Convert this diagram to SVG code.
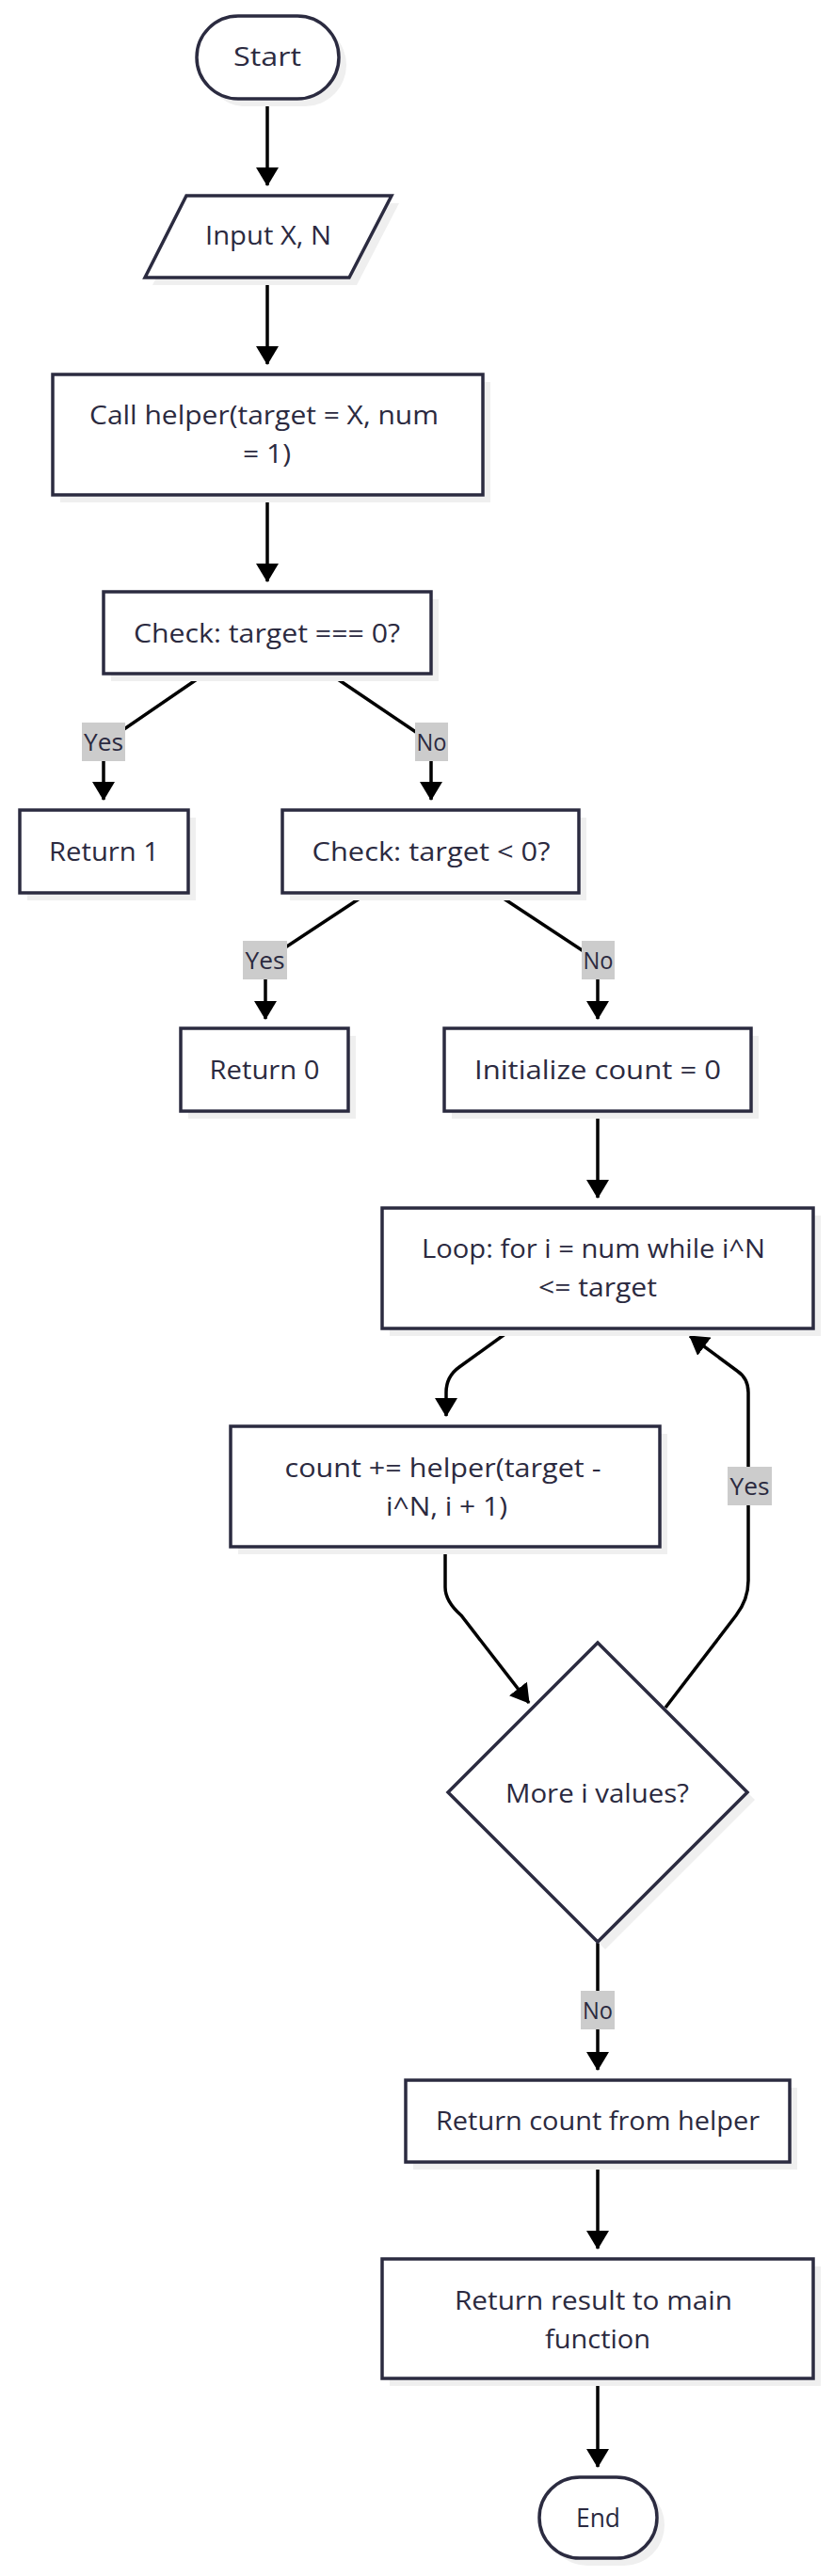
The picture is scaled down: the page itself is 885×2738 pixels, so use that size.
<svg xmlns="http://www.w3.org/2000/svg" width="885" height="2738" viewBox="0 0 885 2738">
<defs>
<marker id="arr" markerUnits="userSpaceOnUse" markerWidth="20" markerHeight="24" refX="19" refY="12" orient="auto">
<path d="M0,0 L20,12 L0,24 z" fill="#000"/>
</marker>
<style>
.n{fill:#fff;stroke:#2b2b40;stroke-width:3.5}
.sh{fill:#efefef;stroke:none}
.t{font-family:"Open Sans","Noto Sans",sans-serif;font-size:28px;fill:#2b2a40;text-anchor:middle}
.lt{font-family:"Open Sans","Noto Sans",sans-serif;font-size:26px;fill:#2b2a40;text-anchor:middle}
.lb{fill:#cccccc;stroke:none}
.e{fill:none;stroke:#000;stroke-width:3.5;marker-end:url(#arr)}
</style>
</defs>
<rect width="885" height="2738" fill="#fff"/>
<g id="connectors">
<path class="e" d="M284,106 L284,197"/>
<path class="e" d="M284,296 L284,387"/>
<path class="e" d="M284,527 L284,618"/>
<path class="e" d="M215,718 L110,790 L110,850"/>
<path class="e" d="M353,718 L458,789 L458,850"/>
<path class="e" d="M388,951 L282,1021 L282,1083"/>
<path class="e" d="M529,951 L635,1021 L635,1083"/>
<path class="e" d="M635,1183 L635,1273"/>
<path class="e" d="M542,1414 L488,1453 Q474,1463 474,1480 L474,1505"/>
<path class="e" d="M473,1646 L473,1687 Q473,1702 490,1717 L562,1810"/>
<path class="e" d="M707,1815 L782,1717 Q795,1700 795,1680 L795,1480 Q795,1465 783,1457 L733,1420"/>
<path class="e" d="M635,2065 L635,2200"/>
<path class="e" d="M635,2300 L635,2390"/>
<path class="e" d="M635,2530 L635,2622"/>
<g id="edge-labels">
<rect class="lb" x="87" y="768" width="46" height="41"/><text class="lt" x="110" y="798" textLength="42" lengthAdjust="spacingAndGlyphs">Yes</text>
<rect class="lb" x="441" y="768" width="35" height="41"/><text class="lt" x="458.5" y="798" textLength="32" lengthAdjust="spacingAndGlyphs">No</text>
<rect class="lb" x="258" y="1000" width="47" height="41"/><text class="lt" x="281.5" y="1030" textLength="42" lengthAdjust="spacingAndGlyphs">Yes</text>
<rect class="lb" x="618" y="1000" width="35" height="41"/><text class="lt" x="635.5" y="1030" textLength="32" lengthAdjust="spacingAndGlyphs">No</text>
<rect class="lb" x="773" y="1559" width="47" height="41"/><text class="lt" x="796.5" y="1589" textLength="42" lengthAdjust="spacingAndGlyphs">Yes</text>
<rect class="lb" x="617" y="2116" width="36" height="41"/><text class="lt" x="635" y="2146" textLength="32" lengthAdjust="spacingAndGlyphs">No</text>
</g>
</g>
<g id="start">
<rect class="sh" x="217" y="25" width="151" height="88" rx="44"/>
<rect class="n" x="209" y="17" width="151" height="88" rx="44"/>
<text class="t" x="284" y="70" textLength="72" lengthAdjust="spacingAndGlyphs">Start</text>
</g>
<g id="input">
<polygon class="sh" points="206,216 424,216 379,303 162,303"/>
<polygon class="n" points="198,208 416,208 371,295 154,295"/>
<text class="t" x="285" y="260" textLength="134" lengthAdjust="spacingAndGlyphs">Input X, N</text>
</g>
<g id="call">
<rect class="sh" x="64" y="406" width="457" height="128"/>
<rect class="n" x="56" y="398" width="457" height="128"/>
<text class="t" x="280.5" y="451" textLength="371" lengthAdjust="spacingAndGlyphs">Call helper(target = X, num</text>
<text class="t" x="283.5" y="492" textLength="51" lengthAdjust="spacingAndGlyphs">= 1)</text>
</g>
<g id="check1">
<rect class="sh" x="118" y="637" width="348" height="87"/>
<rect class="n" x="110" y="629" width="348" height="87"/>
<text class="t" x="283.5" y="683" textLength="283" lengthAdjust="spacingAndGlyphs">Check: target === 0?</text>
</g>
<g id="return1">
<rect class="sh" x="29" y="869" width="179" height="88"/>
<rect class="n" x="21" y="861" width="179" height="88"/>
<text class="t" x="110.5" y="915" textLength="117" lengthAdjust="spacingAndGlyphs">Return 1</text>
</g>
<g id="check2">
<rect class="sh" x="308" y="869" width="315" height="88"/>
<rect class="n" x="300" y="861" width="315" height="88"/>
<text class="t" x="458" y="915" textLength="253" lengthAdjust="spacingAndGlyphs">Check: target &lt; 0?</text>
</g>
<g id="return0">
<rect class="sh" x="200" y="1101" width="178" height="88"/>
<rect class="n" x="192" y="1093" width="178" height="88"/>
<text class="t" x="281" y="1147" textLength="117" lengthAdjust="spacingAndGlyphs">Return 0</text>
</g>
<g id="init">
<rect class="sh" x="480" y="1101" width="326" height="88"/>
<rect class="n" x="472" y="1093" width="326" height="88"/>
<text class="t" x="635" y="1147" textLength="262" lengthAdjust="spacingAndGlyphs">Initialize count = 0</text>
</g>
<g id="loop">
<rect class="sh" x="414" y="1292" width="458" height="128"/>
<rect class="n" x="406" y="1284" width="458" height="128"/>
<text class="t" x="630.5" y="1337" textLength="365" lengthAdjust="spacingAndGlyphs">Loop: for i = num while i^N</text>
<text class="t" x="635" y="1378" textLength="126" lengthAdjust="spacingAndGlyphs">&lt;= target</text>
</g>
<g id="count">
<rect class="sh" x="253" y="1524" width="456" height="128"/>
<rect class="n" x="245" y="1516" width="456" height="128"/>
<text class="t" x="470.5" y="1570" textLength="336" lengthAdjust="spacingAndGlyphs">count += helper(target -</text>
<text class="t" x="474.5" y="1611" textLength="129" lengthAdjust="spacingAndGlyphs">i^N, i + 1)</text>
</g>
<g id="more">
<polygon class="sh" points="643,1754 802,1913 643,2072 484,1913"/>
<polygon class="n" points="635,1746 794,1905 635,2064 476,1905"/>
<text class="t" x="634.5" y="1916" textLength="195" lengthAdjust="spacingAndGlyphs">More i values?</text>
</g>
<g id="returncount">
<rect class="sh" x="439" y="2219" width="408" height="87"/>
<rect class="n" x="431" y="2211" width="408" height="87"/>
<text class="t" x="635" y="2264" textLength="344" lengthAdjust="spacingAndGlyphs">Return count from helper</text>
</g>
<g id="returnresult">
<rect class="sh" x="414" y="2409" width="458" height="127"/>
<rect class="n" x="406" y="2401" width="458" height="127"/>
<text class="t" x="630.5" y="2455" textLength="295" lengthAdjust="spacingAndGlyphs">Return result to main</text>
<text class="t" x="635" y="2496" textLength="112" lengthAdjust="spacingAndGlyphs">function</text>
</g>
<g id="end">
<rect class="sh" x="581" y="2641" width="125" height="86" rx="43"/>
<rect class="n" x="573" y="2633" width="125" height="86" rx="43"/>
<text class="t" x="635.5" y="2686" textLength="47" lengthAdjust="spacingAndGlyphs">End</text>
</g>
</svg>
